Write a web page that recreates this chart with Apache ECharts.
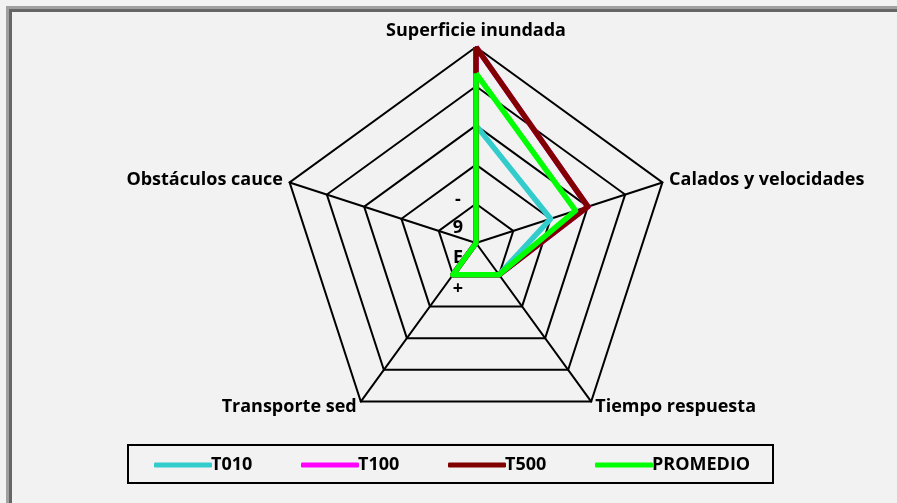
<!DOCTYPE html>
<html>
<head>
<meta charset="utf-8">
<script src="https://cdn.jsdelivr.net/npm/echarts@6/dist/echarts.min.js"></script>
<style>
  html, body { margin: 0; padding: 0; background: #f2f2f2; }
  #chart { width: 897px; height: 503px; }
</style>
</head>
<body>
<div id="chart"></div>
<script>
// Criteria, listed clockwise from the top
const categories = ['Superficie inundada', 'Calados y velocidades', 'Tiempo respuesta', 'Transporte sed', 'Obstáculos cauce'];
const seriesNames = ['T010', 'T100', 'T500', 'PROMEDIO'];
const t010 = [3, 2, 1, 1, 0];
const t100 = [5, 3, 1, 1, 0];
const t500 = [5, 3, 1, 1, 0];
const promedio = [4.33, 2.67, 1, 1, 0];
const colors = ['#33cccc', '#ff00ff', '#800000', '#00ff00'];
const scaleMax = 5;
const sideLabels = ['-', '9', 'E', '+'];

// ECharts lays indicators out counter-clockwise, so keep the first and reverse the rest
const order = [0].concat(categories.map((_, i) => i).slice(1).reverse());
const reorder = arr => order.map(i => arr[i]);

const FONT = 'Open Sans';
const allValues = [t010, t100, t500, promedio];
const legendLeft = [149, 296, 443, 590];

const chart = echarts.init(document.getElementById('chart'), null, { renderer: 'canvas' });
chart.setOption({
  backgroundColor: '#f2f2f2',
  animation: false,
  // one legend block per series so every entry sits at its own slot in the box
  legend: seriesNames.map((name, i) => ({
    data: [name],
    left: legendLeft[i],
    top: 451,
    itemWidth: 58,
    itemHeight: 5,
    itemGap: 0,
    icon: 'roundRect',
    textStyle: { fontFamily: FONT, fontWeight: 'bold', fontSize: 18, color: '#000', padding: [0, 0, 0, -6] }
  })),
  radar: {
    center: [476, 243],
    radius: 196,
    startAngle: 90,
    splitNumber: 5,
    shape: 'polygon',
    indicator: reorder(categories).map(name => ({ name: name, min: 0, max: scaleMax })),
    axisName: { color: '#000', fontFamily: FONT, fontWeight: 'bold', fontSize: 18 },
    nameGap: 7,
    axisLine: { lineStyle: { color: '#000', width: 2 } },
    splitLine: { lineStyle: { color: '#000', width: 2 } },
    splitArea: { show: false },
    axisTick: { show: false },
    axisLabel: { show: false }
  },
  series: [{
    type: 'radar',
    symbol: 'none',
    data: seriesNames.map((name, i) => ({
      name: name,
      value: reorder(allValues[i]),
      lineStyle: { color: colors[i], width: 5.5 },
      itemStyle: { color: colors[i] }
    }))
  }],
  graphic: [
    { type: 'rect', shape: { x: 7.5, y: 7.5, width: 2000, height: 2000 }, style: { fill: 'none', stroke: '#a0a0a0', lineWidth: 3 }, silent: true },
    { type: 'rect', shape: { x: 10.5, y: 10.5, width: 2000, height: 2000 }, style: { fill: 'none', stroke: '#666666', lineWidth: 3 }, silent: true },
    { type: 'rect', shape: { x: 128, y: 445, width: 645, height: 38 }, style: { fill: 'none', stroke: '#000', lineWidth: 2 }, silent: true }
  ].concat(sideLabels.map((t, i) => ({
    type: 'text',
    x: 458, y: [200, 228, 258, 289][i],
    style: { text: t, fontFamily: FONT, fontWeight: 'bold', fontSize: 18, fill: '#000', align: 'center', verticalAlign: 'middle' },
    silent: true
  })))
});
</script>
</body>
</html>
